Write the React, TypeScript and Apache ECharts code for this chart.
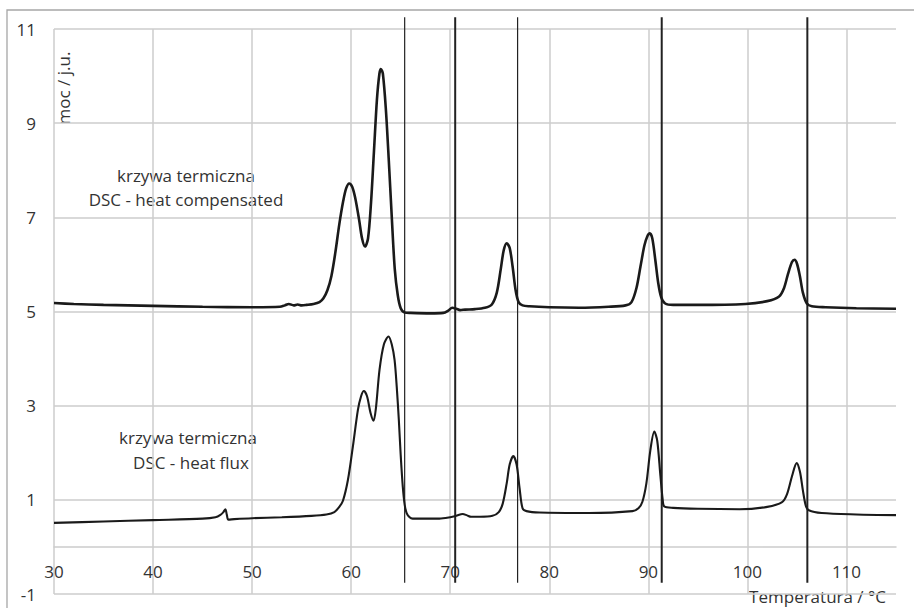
import React, { useEffect, useRef } from "react";
import * as echarts from "echarts";

// Heat compensated DSC curve (upper)
const upperT = [30, 32, 35, 40, 45, 50, 52.8, 53.3, 53.7, 54.2, 54.6, 55.0, 55.5, 56.2, 56.8, 57.2, 57.6, 58.0, 58.4, 58.8, 59.2, 59.5, 59.8, 60.1, 60.4, 60.8, 61.1, 61.4, 61.7, 62.0, 62.3, 62.6, 62.85, 63.0, 63.2, 63.5, 63.8, 64.1, 64.4, 64.7, 65.0, 65.4, 66, 68, 69.3, 69.8, 70.2, 70.6, 71.0, 71.5, 72.5, 73.5, 74.2, 74.7, 75.1, 75.4, 75.7, 76.0, 76.3, 76.6, 76.9, 77.3, 78, 80, 83, 86, 87.7, 88.3, 88.8, 89.2, 89.6, 89.9, 90.15, 90.4, 90.7, 91.0, 91.3, 91.7, 92.5, 95, 99.8, 102, 103.2, 103.7, 104.1, 104.5, 104.76, 105.0, 105.3, 105.6, 106.0, 106.5, 107.9, 111, 115];
const upperP = [5.18, 5.16, 5.14, 5.12, 5.10, 5.09, 5.10, 5.13, 5.16, 5.13, 5.15, 5.13, 5.14, 5.16, 5.20, 5.28, 5.45, 5.75, 6.25, 6.85, 7.35, 7.62, 7.72, 7.65, 7.42, 6.95, 6.55, 6.38, 6.55, 7.3, 8.4, 9.5, 10.05, 10.15, 10.05, 9.3, 8.2, 7.0, 5.9, 5.35, 5.07, 4.98, 4.97, 4.96, 4.97, 5.02, 5.08, 5.06, 5.03, 5.04, 5.05, 5.08, 5.15, 5.4, 5.9, 6.3, 6.45, 6.35, 5.95, 5.45, 5.2, 5.13, 5.11, 5.09, 5.08, 5.10, 5.13, 5.2, 5.5, 5.95, 6.4, 6.6, 6.66, 6.55, 6.1, 5.6, 5.3, 5.17, 5.14, 5.14, 5.16, 5.22, 5.32, 5.5, 5.8, 6.05, 6.10, 6.02, 5.75, 5.4, 5.17, 5.11, 5.09, 5.07, 5.06];

// Heat flux DSC curve (lower)
const lowerT = [30, 35, 40, 45, 46.3, 46.8, 47.1, 47.3, 47.45, 47.6, 48.2, 50, 53, 56, 57.5, 58.3, 58.8, 59.17, 59.67, 60.17, 60.68, 61.0, 61.28, 61.6, 61.95, 62.26, 62.5, 62.86, 63.3, 63.77, 64.1, 64.38, 64.6, 64.81, 65.0, 65.21, 65.4, 65.6, 65.9, 66.2, 68.9, 70.0, 70.6, 71.26, 71.7, 72.1, 73.0, 74.26, 74.9, 75.3, 75.7, 76.0, 76.37, 76.7, 77.0, 77.3, 77.7, 79.0, 84, 88.4, 89.0, 89.4, 89.8, 90.2, 90.6, 90.9, 91.2, 91.45, 91.6, 92.5, 95, 99.2, 102, 103.5, 104.0, 104.5, 104.97, 105.3, 105.6, 105.9, 106.2, 107.5, 111, 115];
const lowerP = [0.51, 0.54, 0.57, 0.60, 0.63, 0.68, 0.74, 0.80, 0.68, 0.58, 0.59, 0.61, 0.63, 0.66, 0.69, 0.74, 0.85, 0.98, 1.42, 2.13, 2.91, 3.2, 3.31, 3.2, 2.85, 2.68, 2.95, 3.76, 4.3, 4.47, 4.3, 3.97, 3.4, 2.70, 1.95, 1.28, 0.9, 0.72, 0.63, 0.60, 0.60, 0.63, 0.66, 0.70, 0.67, 0.64, 0.64, 0.66, 0.74, 0.92, 1.35, 1.75, 1.93, 1.75, 1.25, 0.82, 0.76, 0.73, 0.72, 0.76, 0.82, 0.96, 1.35, 2.05, 2.45, 2.25, 1.55, 1.0, 0.86, 0.83, 0.81, 0.80, 0.85, 0.95, 1.12, 1.5, 1.78, 1.6, 1.2, 0.87, 0.78, 0.72, 0.69, 0.675];

// Vertical marker temperatures
const markerT = [65.4, 70.5, 76.8, 91.35, 106.05];
const markerWidth = [1.2, 2, 1.2, 2, 2];
const markerTop = 11.25;
const markerBottom = -0.76;

const Y_MIN = -1;
const Y_MAX = 11;

const FONT = "'Open Sans', sans-serif";
const TEXT = "#333333";
const GRID = "#cccccc";

const GRID_TOP = 29;
const GRID_BOTTOM = 14;
const H = 608;

export default function App() {
  const ref = useRef<HTMLDivElement>(null);
  useEffect(() => {
    if (!ref.current) return;
    const chart = echarts.init(ref.current, undefined, { renderer: "svg" });
    const upper = upperT.map((t, i) => [t, upperP[i]]);
    const lower = lowerT.map((t, i) => [t, lowerP[i]]);
    const plotH = H - GRID_TOP - GRID_BOTTOM;
    // place the x axis at y = 0
    const zeroOffset = -plotH * (0 - Y_MIN) / (Y_MAX - Y_MIN);
    const markerSeries = markerT.map((t, i) => ({
      type: "line",
      data: [[t, markerTop], [t, markerBottom]],
      clip: false,
      showSymbol: false,
      silent: true,
      lineStyle: { color: "#222222", width: markerWidth[i] },
      z: 3,
    }));
    chart.setOption({
      animation: false,
      backgroundColor: "#ffffff",
      grid: { left: 54, right: 18, top: GRID_TOP, bottom: GRID_BOTTOM, containLabel: false },
      xAxis: {
        type: "value",
        min: 30,
        max: 115,
        interval: 10,
        position: "bottom",
        offset: zeroOffset,
        axisLine: { show: true, onZero: false, lineStyle: { color: GRID, width: 1.5 } },
        axisTick: { show: false },
        axisLabel: {
          showMaxLabel: false,
          fontSize: 17,
          fontFamily: FONT,
          color: TEXT,
          margin: 16,
        },
        splitLine: { show: true, showMinLine: true, showMaxLine: false, lineStyle: { color: GRID, width: 1.5 } },
      },
      yAxis: {
        type: "value",
        min: Y_MIN,
        max: Y_MAX,
        interval: 2,
        axisLine: { show: false },
        axisTick: { show: false },
        axisLabel: { fontSize: 17, fontFamily: FONT, color: TEXT, margin: 18 },
        splitLine: { show: true, lineStyle: { color: GRID, width: 1.5 } },
      },
      graphic: [
        {
          type: "rect",
          shape: { x: 7, y: 10, width: 1000, height: 700 },
          style: { fill: "none", stroke: "#a6a6a6", lineWidth: 1.3 },
          silent: true,
          z: -10,
        },
        {
          type: "text",
          x: 63,
          y: 88,
          rotation: Math.PI / 2,
          style: { text: "moc / j.u.", fontSize: 17, fontFamily: FONT, fill: TEXT, textAlign: "center", textVerticalAlign: "middle" },
        },
        {
          type: "text",
          x: 886,
          y: 596,
          style: { text: "Temperatura / °C", fontSize: 17, fontFamily: FONT, fill: TEXT, textAlign: "right", textVerticalAlign: "middle" },
        },
        {
          type: "text",
          x: 186,
          y: 175,
          style: { text: "krzywa termiczna", fontSize: 17, fontFamily: FONT, fill: TEXT, textAlign: "center", textVerticalAlign: "middle" },
        },
        {
          type: "text",
          x: 186,
          y: 199,
          style: { text: "DSC - heat compensated", fontSize: 17, fontFamily: FONT, fill: TEXT, textAlign: "center", textVerticalAlign: "middle" },
        },
        {
          type: "text",
          x: 188,
          y: 437,
          style: { text: "krzywa termiczna", fontSize: 17, fontFamily: FONT, fill: TEXT, textAlign: "center", textVerticalAlign: "middle" },
        },
        {
          type: "text",
          x: 191,
          y: 462,
          style: { text: "DSC - heat flux", fontSize: 17, fontFamily: FONT, fill: TEXT, textAlign: "center", textVerticalAlign: "middle" },
        },
      ],
      series: [
        {
          name: "DSC - heat compensated",
          type: "line",
          data: upper,
          showSymbol: false,
          smooth: 0.3,
          lineStyle: { color: "#1a1a1a", width: 2.6 },
          z: 4,
        },
        {
          name: "DSC - heat flux",
          type: "line",
          data: lower,
          showSymbol: false,
          smooth: 0.3,
          lineStyle: { color: "#1a1a1a", width: 2.1 },
          z: 4,
        },
        ...markerSeries,
      ],
    });
    return () => chart.dispose();
  }, []);
  return (
    <div
      ref={ref}
      style={{ position: "fixed", left: 0, top: 0, width: 914, height: 608, background: "#fff" }}
    />
  );
}
